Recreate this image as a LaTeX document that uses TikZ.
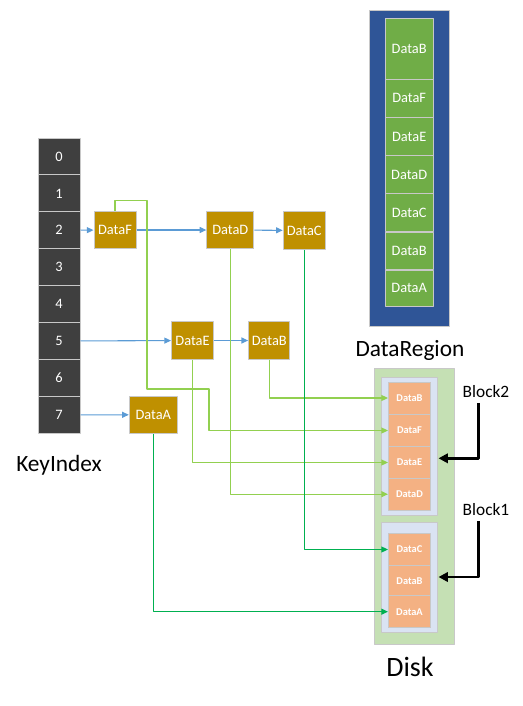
\documentclass[tikz,border=0pt]{standalone}
\usepackage{fontspec}
\setmainfont{Carlito}
\usetikzlibrary{arrows.meta}
\definecolor{keydark}{HTML}{3F3F3F}
\definecolor{cellline}{HTML}{C8C8C8}
\definecolor{gold}{HTML}{BF9000}
\definecolor{linkblue}{HTML}{5B9BD5}
\definecolor{lgreen}{HTML}{92D050}
\definecolor{dgreen}{HTML}{00B050}
\definecolor{diskgreen}{HTML}{C5E0B4}
\definecolor{blockblue}{HTML}{DAE3F3}
\definecolor{slotorange}{HTML}{F4B183}
\definecolor{regionblue}{HTML}{2F5597}
\definecolor{regiongreen}{HTML}{70AD47}
\begin{document}
\begin{tikzpicture}[x=0.75pt, y=-0.75pt, line join=round,
  every node/.style={font=\fontsize{10.8}{12}\selectfont},
  keycell/.style={draw=cellline, fill=keydark, text=white, line width=.75pt,
    minimum width=31.5pt, minimum height=27.7pt, inner sep=0pt},
  entry/.style={draw=cellline, fill=gold, text=white, line width=.75pt,
    minimum width=31.5pt, minimum height=28.2pt, inner sep=0pt},
  slot/.style={draw=cellline, fill=slotorange, text=white, line width=.5pt,
    minimum width=31.8pt, minimum height=24pt, inner sep=0pt,
    font=\fontsize{7.8}{8}\selectfont\bfseries},
  rcell/.style={draw=cellline, fill=regiongreen, text=white, line width=.75pt,
    minimum width=36.2pt, minimum height=28.3pt, inner sep=0pt},
  bluelink/.style={draw=linkblue, line width=.8pt, -{Triangle[length=5pt,width=4.5pt]}},
  greenlink/.style={draw=lgreen, line width=.9pt, -{Triangle[length=5pt,width=4.5pt]}},
  darklink/.style={draw=dgreen, line width=.9pt, -{Triangle[length=5pt,width=4.5pt]}},
  blockarrow/.style={draw=black, line width=2pt, -{Triangle[length=7pt,width=7pt]}},
  biglabel/.style={font=\fontsize{17.5}{20}\selectfont}]
  \useasboundingbox (0,0) rectangle (522,706);

  % key index
  \foreach \i in {0,...,7}
    \node[keycell] (k\i) at (59,156.5+36.9*\i) {\i};
  \node[biglabel] (keylabel) at (59,465) {KeyIndex};

  % hash chains
  \node[entry] (dF) at (115,230) {DataF};
  \node[entry, minimum width=35.2pt] (dD) at (230.3,230) {DataD};
  \node[entry] (dC) at (304.2,230.5) {DataC};
  \node[entry] (dE) at (192.5,340.5) {DataE};
  \node[entry, minimum width=31pt] (dB) at (269.3,340.5) {DataB};
  \node[entry, minimum width=36pt, minimum height=27.7pt] (dA) at (153.3,414.8) {DataA};

  % data region
  \draw[fill=regionblue, draw=cellline, line width=.5pt] (369.3,10) rectangle (449.3,326);
  \node[rcell, minimum height=45.7pt] (rB2) at (409.2,48.8) {DataB};
  \node[rcell] (rF) at (409.2,98.2) {DataF};
  \node[rcell] (rE) at (409.2,136.5) {DataE};
  \node[rcell] (rD) at (409.2,174.8) {DataD};
  \node[rcell] (rC) at (409.2,212.5) {DataC};
  \node[rcell] (rB1) at (409.2,251) {DataB};
  \node[rcell, minimum height=27pt] (rA) at (409.2,288) {DataA};
  \node[biglabel] (regionlabel) at (410,350) {DataRegion};

  % disk
  \draw[fill=diskgreen, draw=cellline, line width=.75pt] (374,368.3) rectangle (454.3,644.3);
  \draw[fill=blockblue, draw=cellline, line width=.75pt] (381.7,377.3) rectangle (437.3,515);
  \draw[fill=blockblue, draw=cellline, line width=.75pt] (381.7,522.7) rectangle (437.3,632.7);
  \node[slot] (sB2) at (409.5,398) {DataB};
  \node[slot] (sF) at (409.5,430.5) {DataF};
  \node[slot] (sE) at (409.5,462.5) {DataE};
  \node[slot] (sD) at (409.5,494.2) {DataD};
  \node[slot] (sC) at (409.5,549.5) {DataC};
  \node[slot, minimum height=23pt] (sB1) at (409.5,581) {DataB};
  \node[slot] (sA) at (409.5,611.7) {DataA};
  \node[font=\fontsize{21}{24}\selectfont] (disklabel) at (410,667) {Disk};

  % blocks
  \node[font=\fontsize{13}{15}\selectfont] (lb2) at (486,392) {Block2};
  \node[font=\fontsize{13}{15}\selectfont] (lb1) at (486,510) {Block1};
  \coordinate (b2tip) at (438.5,458.3);
  \coordinate (b1tip) at (438.5,577);
  \draw[blockarrow] ([xshift=-5.5pt]lb2.south) |- (b2tip);
  \draw[blockarrow] ([xshift=-5.5pt]lb1.south) |- (b1tip);

  % links
  \draw[bluelink] (k2) -- (dF);
  \draw[bluelink] (dF) -- (dD);
  \draw[bluelink] (dD) -- (dC);
  \draw[bluelink] (k5) -- (dE);
  \draw[bluelink] (dE) -- (dB);
  \draw[bluelink] (k7) -- (dA);

  \draw[greenlink] (dB.south) |- (sB2.west);
  \draw[greenlink] (dF.north) -- ++(0,-10) -| (147,389) -- (209,389) |- (sF.west);
  \draw[greenlink] (dE.south) |- (sE.west);
  \draw[greenlink] (dD.south) |- (sD.west);
  \draw[darklink] (dC.south) |- (sC.west);
  \draw[darklink] (dA.south) |- (sA.west);
\end{tikzpicture}
\end{document}
